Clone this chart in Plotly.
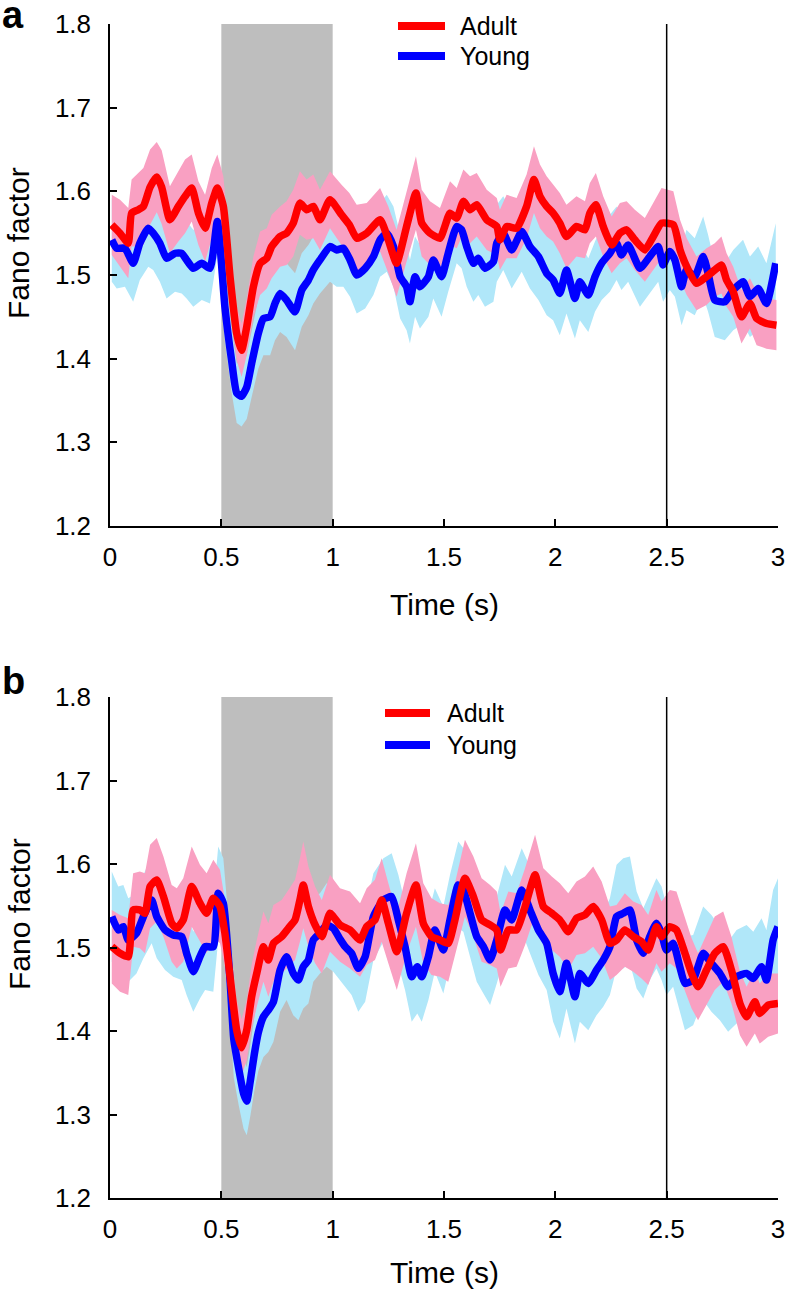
import plotly.graph_objects as go

# ---------------- data ----------------
# Panel a
t_adult_a = [0.008,0.045,0.082,0.097,0.127,0.150,0.180,0.210,0.232,0.269,
             0.307,0.337,0.367,0.397,0.427,0.457,0.482,0.509,0.539,0.569,
             0.591,0.614,0.644,0.674,0.704,0.726,0.764,0.793,0.823,0.853,
             0.883,0.913,0.943,0.988,1.040,1.075,1.108,1.153,1.213,1.250,
             1.287,1.332,1.374,1.400,1.437,1.482,1.527,1.557,1.587,1.617,
             1.647,1.692,1.737,1.751,1.781,1.826,1.871,1.904,1.931,1.961,
             1.990,2.020,2.050,2.095,2.133,2.155,2.182,2.215,2.253,2.290,
             2.320,2.357,2.402,2.440,2.477,2.530,2.560,2.590,2.634,2.679,
             2.716,2.746,2.769,2.799,2.836,2.874,2.904,2.948,2.993]
adult_a = [1.560,1.550,1.538,1.574,1.578,1.582,1.605,1.617,1.605,1.566,
           1.582,1.594,1.604,1.574,1.556,1.586,1.604,1.582,1.498,1.430,
           1.410,1.438,1.486,1.514,1.520,1.534,1.546,1.550,1.562,1.586,
           1.578,1.582,1.566,1.590,1.572,1.560,1.544,1.550,1.566,1.542,
           1.514,1.558,1.598,1.562,1.550,1.544,1.574,1.568,1.588,1.578,
           1.584,1.566,1.558,1.542,1.558,1.556,1.582,1.614,1.594,1.582,
           1.574,1.562,1.546,1.558,1.554,1.574,1.584,1.558,1.536,1.550,
           1.554,1.542,1.530,1.546,1.562,1.560,1.530,1.510,1.490,1.498,
           1.506,1.512,1.494,1.480,1.450,1.466,1.448,1.442,1.440]
adult_a_sem = [0.036,0.040,0.042,0.040,0.044,0.046,0.045,0.042,0.044,0.040,
               0.042,0.044,0.040,0.038,0.040,0.042,0.040,0.036,0.034,0.032,
               0.032,0.034,0.036,0.038,0.036,0.038,0.036,0.038,0.040,0.038,
               0.036,0.038,0.036,0.034,0.036,0.038,0.040,0.036,0.038,0.040,
               0.040,0.042,0.044,0.040,0.038,0.036,0.038,0.036,0.038,0.040,
               0.038,0.036,0.034,0.036,0.038,0.036,0.038,0.040,0.038,0.036,
               0.034,0.036,0.038,0.036,0.034,0.036,0.038,0.036,0.034,0.036,
               0.034,0.036,0.038,0.040,0.042,0.040,0.036,0.034,0.032,0.034,
               0.032,0.034,0.032,0.030,0.032,0.030,0.032,0.030,0.030]

t_young_a = [0.008,0.030,0.067,0.104,0.134,0.172,0.194,0.224,0.254,0.292,
             0.322,0.344,0.374,0.412,0.449,0.482,0.516,0.546,0.569,0.591,
             0.614,0.636,0.666,0.689,0.719,0.741,0.764,0.793,0.831,0.861,
             0.891,0.913,0.943,0.988,1.018,1.048,1.078,1.108,1.146,1.183,
             1.213,1.243,1.273,1.303,1.332,1.347,1.370,1.392,1.430,1.452,
             1.489,1.519,1.557,1.579,1.602,1.632,1.654,1.684,1.722,1.737,
             1.766,1.804,1.849,1.886,1.924,1.961,1.990,2.020,2.050,2.088,
             2.110,2.148,2.178,2.208,2.245,2.275,2.297,2.327,2.380,2.424,
             2.462,2.484,2.514,2.537,2.567,2.589,2.626,2.664,2.686,2.716,
             2.761,2.799,2.843,2.874,2.911,2.948,2.990]
young_a = [1.542,1.532,1.532,1.514,1.538,1.556,1.550,1.538,1.520,1.526,
           1.526,1.518,1.508,1.514,1.508,1.564,1.462,1.398,1.359,1.355,
           1.366,1.394,1.430,1.448,1.450,1.466,1.478,1.470,1.456,1.482,
           1.494,1.506,1.518,1.534,1.530,1.532,1.518,1.500,1.508,1.522,
           1.542,1.550,1.534,1.498,1.486,1.468,1.498,1.486,1.498,1.518,
           1.498,1.526,1.558,1.554,1.534,1.514,1.520,1.508,1.516,1.538,
           1.550,1.530,1.552,1.534,1.522,1.502,1.494,1.478,1.506,1.472,
           1.492,1.476,1.498,1.514,1.526,1.538,1.524,1.536,1.508,1.522,
           1.534,1.512,1.528,1.518,1.486,1.506,1.498,1.522,1.502,1.470,
           1.468,1.482,1.492,1.474,1.484,1.466,1.514]
young_a_sem = [0.050,0.048,0.046,0.046,0.044,0.046,0.044,0.046,0.048,0.046,
               0.048,0.046,0.046,0.044,0.042,0.040,0.040,0.038,0.036,0.036,
               0.038,0.040,0.042,0.044,0.046,0.044,0.046,0.044,0.046,0.044,
               0.042,0.040,0.040,0.042,0.044,0.046,0.044,0.046,0.048,0.046,
               0.044,0.046,0.048,0.050,0.052,0.050,0.048,0.050,0.048,0.046,
               0.048,0.046,0.044,0.046,0.048,0.046,0.044,0.046,0.048,0.046,
               0.044,0.046,0.048,0.050,0.052,0.050,0.048,0.050,0.052,0.048,
               0.046,0.044,0.042,0.044,0.046,0.044,0.042,0.044,0.046,0.044,
               0.042,0.044,0.046,0.044,0.046,0.048,0.046,0.048,0.046,0.044,
               0.046,0.048,0.050,0.048,0.050,0.048,0.048]

# Panel b
t_adult_b = [0.008,0.045,0.082,0.104,0.134,0.157,0.180,0.210,0.240,0.277,
             0.300,0.329,0.367,0.404,0.434,0.464,0.494,0.516,0.546,0.569,
             0.591,0.614,0.636,0.659,0.689,0.711,0.734,0.771,0.801,0.831,
             0.853,0.868,0.891,0.921,0.951,0.988,
             1.033,1.078,1.123,1.153,1.190,1.220,1.250,1.288,1.332,1.374,
             1.407,1.444,1.482,1.519,1.549,1.594,1.632,1.669,1.707,1.737,
             1.754,1.789,1.826,1.864,1.909,1.946,1.984,
             2.020,2.058,2.095,2.133,2.170,2.208,2.245,2.275,2.312,2.350,
             2.387,2.417,2.454,2.477,2.514,2.544,2.582,2.612,2.641,2.679,
             2.716,2.754,2.791,2.829,2.859,2.896,2.918,2.956,3.000]
adult_b = [1.501,1.493,1.489,1.545,1.545,1.541,1.573,1.581,1.561,1.529,
           1.523,1.533,1.573,1.553,1.541,1.559,1.549,1.517,1.449,1.401,
           1.380,1.401,1.441,1.469,1.501,1.485,1.505,1.513,1.523,1.533,
           1.557,1.575,1.549,1.527,1.513,1.541,
           1.527,1.521,1.509,1.525,1.533,1.557,1.529,1.495,1.541,1.575,
           1.529,1.513,1.509,1.505,1.533,1.583,1.561,1.533,1.527,1.521,
           1.497,1.521,1.521,1.549,1.587,1.549,1.541,
           1.533,1.519,1.535,1.539,1.549,1.533,1.505,1.509,1.521,1.513,
           1.507,1.497,1.525,1.513,1.525,1.521,1.493,1.469,1.453,1.473,
           1.493,1.501,1.473,1.433,1.417,1.435,1.421,1.431,1.433]
adult_b_sem = [0.044,0.046,0.046,0.044,0.046,0.048,0.050,0.050,0.048,0.046,
               0.048,0.050,0.048,0.046,0.048,0.046,0.044,0.040,0.038,0.036,
               0.034,0.036,0.038,0.040,0.042,0.044,0.046,0.044,0.046,0.048,
               0.050,0.052,0.048,0.046,0.044,0.046,
               0.044,0.046,0.044,0.046,0.048,0.050,0.048,0.046,0.048,0.050,
               0.048,0.046,0.044,0.046,0.044,0.046,0.048,0.050,0.048,0.046,
               0.044,0.046,0.044,0.046,0.048,0.046,0.044,
               0.044,0.046,0.044,0.046,0.048,0.046,0.044,0.042,0.044,0.042,
               0.044,0.042,0.044,0.042,0.044,0.046,0.044,0.042,0.040,0.042,
               0.044,0.042,0.040,0.038,0.036,0.038,0.036,0.038,0.036]

t_young_b = [0.008,0.037,0.060,0.082,0.119,0.150,0.187,0.210,0.247,0.284,
             0.322,0.344,0.374,0.404,0.427,0.464,0.486,0.509,0.539,0.556,
             0.578,0.600,0.614,0.630,0.648,0.666,0.689,0.711,0.734,0.764,
             0.793,0.823,0.846,0.868,0.891,0.913,0.943,0.973,1.003,1.033,
             1.056,1.085,1.115,1.146,1.183,1.228,1.265,1.295,1.325,1.355,
             1.380,1.400,1.430,1.459,1.497,1.527,1.564,1.587,1.617,1.647,
             1.677,1.707,1.737,1.774,1.804,1.849,1.886,1.924,1.961,1.990,
             2.020,2.050,2.088,2.110,2.148,2.185,2.215,2.245,2.275,2.305,
             2.335,2.365,2.395,2.424,2.454,2.477,2.499,2.529,2.559,2.582,
             2.619,2.664,2.701,2.739,2.776,2.814,2.859,2.889,2.926,2.948,
             2.978,3.000]
young_b = [1.537,1.521,1.525,1.509,1.517,1.537,1.557,1.537,1.521,1.515,
           1.513,1.493,1.471,1.489,1.501,1.501,1.565,1.553,1.461,1.390,
           1.355,1.325,1.316,1.340,1.372,1.398,1.417,1.425,1.435,1.473,
           1.489,1.469,1.461,1.477,1.485,1.509,1.517,1.527,1.523,1.510,
           1.501,1.493,1.475,1.489,1.537,1.557,1.561,1.533,1.501,1.465,
           1.477,1.465,1.489,1.521,1.497,1.533,1.575,1.569,1.541,1.513,
           1.501,1.485,1.509,1.545,1.533,1.569,1.545,1.521,1.505,1.469,
           1.447,1.481,1.441,1.469,1.457,1.473,1.485,1.501,1.537,1.541,
           1.545,1.509,1.493,1.513,1.529,1.517,1.497,1.505,1.477,1.457,
           1.461,1.493,1.481,1.469,1.453,1.465,1.469,1.463,1.477,1.461,
           1.509,1.525]
young_b_sem = [0.054,0.052,0.050,0.050,0.048,0.050,0.052,0.050,0.048,0.050,
               0.052,0.050,0.048,0.050,0.052,0.054,0.056,0.054,0.050,0.046,
               0.044,0.042,0.041,0.042,0.044,0.046,0.048,0.050,0.048,0.050,
               0.052,0.050,0.048,0.050,0.052,0.050,0.048,0.050,0.052,0.050,
               0.048,0.050,0.052,0.054,0.052,0.050,0.052,0.054,0.052,0.054,
               0.056,0.054,0.052,0.050,0.052,0.054,0.052,0.050,0.052,0.054,
               0.056,0.054,0.052,0.054,0.052,0.050,0.052,0.054,0.056,0.058,
               0.056,0.054,0.056,0.058,0.056,0.054,0.056,0.058,0.062,0.066,
               0.064,0.058,0.054,0.052,0.054,0.056,0.054,0.052,0.054,0.056,
               0.054,0.056,0.058,0.056,0.054,0.056,0.058,0.056,0.058,0.060,
               0.060,0.058]

x_ticks = [0, 0.5, 1, 1.5, 2, 2.5, 3]
x_ticklabels = ["0", "0.5", "1", "1.5", "2", "2.5", "3"]
y_ticks = [1.2, 1.3, 1.4, 1.5, 1.6, 1.7, 1.8]
y_ticklabels = ["1.2", "1.3", "1.4", "1.5", "1.6", "1.7", "1.8"]
stim_window = [0.5, 1.0]
marker_time = 2.5
series_names = ["Adult", "Young"]

# ---------------- styling ----------------
W, H = 788, 1291
ML, MR, MT, MB = 110, 10, 24, 93
PW, PH = W - ML - MR, H - MT - MB
FONT = "Liberation Sans, Arial, Helvetica, sans-serif"
RED, BLUE = "#ff0000", "#0000ff"
PINK, LIGHTBLUE = "#f9a0c2", "#b0e7f9"
GRAY = "#bebebe"
LINE_W = 7.5


def px(xp):
    return (xp - ML) / PW


def py(yp):
    return (MT + PH - yp) / PH


def fit(sem, n):
    sem = list(sem[:n])
    return sem + [sem[-1]] * (n - len(sem))


fig = go.Figure()


def add_panel(xa, ya, ta, va, sa, tb, vb, sb):
    sa = fit(sa, len(va))
    sb = fit(sb, len(vb))
    up = [v + s for v, s in zip(vb, sb)]
    lo = [v - s for v, s in zip(vb, sb)]
    fig.add_trace(go.Scatter(x=tb + tb[::-1], y=up + lo[::-1], fill="toself",
                             fillcolor=LIGHTBLUE, line=dict(width=0),
                             mode="lines", hoverinfo="skip", showlegend=False,
                             xaxis=xa, yaxis=ya))
    up = [v + s for v, s in zip(va, sa)]
    lo = [v - s for v, s in zip(va, sa)]
    fig.add_trace(go.Scatter(x=ta + ta[::-1], y=up + lo[::-1], fill="toself",
                             fillcolor=PINK, line=dict(width=0),
                             mode="lines", hoverinfo="skip", showlegend=False,
                             xaxis=xa, yaxis=ya))
    fig.add_trace(go.Scatter(x=tb, y=vb, mode="lines", name=series_names[1],
                             line=dict(color=BLUE, width=LINE_W,
                                       shape="spline", smoothing=0.5),
                             showlegend=False, xaxis=xa, yaxis=ya))
    fig.add_trace(go.Scatter(x=ta, y=va, mode="lines", name=series_names[0],
                             line=dict(color=RED, width=LINE_W,
                                       shape="spline", smoothing=0.5),
                             showlegend=False, xaxis=xa, yaxis=ya))


add_panel("x", "y", t_adult_a, adult_a, adult_a_sem, t_young_a, young_a, young_a_sem)
add_panel("x2", "y2", t_adult_b, adult_b, adult_b_sem, t_young_b, young_b, young_b_sem)

axis_common = dict(showgrid=False, zeroline=False, showline=True,
                   linecolor="black", linewidth=1.5, ticks="inside",
                   ticklen=7, tickwidth=1.5, tickcolor="black",
                   automargin=False,
                   tickfont=dict(family=FONT, size=26, color="black"))

dom_a = [py(526), 1.0]
dom_b = [0.0, py(697)]

fig.update_layout(
    width=W, height=H, autosize=False,
    margin=dict(l=ML, r=MR, t=MT, b=MB, pad=0, autoexpand=False),
    paper_bgcolor="white", plot_bgcolor="white",
    showlegend=False,
    xaxis=dict(range=[0, 3], domain=[0, 1], anchor="y",
               tickvals=x_ticks, ticktext=x_ticklabels,
               ticklabelstandoff=7, **axis_common),
    yaxis=dict(range=[1.2, 1.8], domain=dom_a, anchor="x",
               tickvals=y_ticks, ticktext=y_ticklabels,
               ticklabelstandoff=12, **axis_common),
    xaxis2=dict(range=[0, 3], domain=[0, 1], anchor="y2",
                tickvals=x_ticks, ticktext=x_ticklabels,
                ticklabelstandoff=7, **axis_common),
    yaxis2=dict(range=[1.2, 1.8], domain=dom_b, anchor="x2",
                tickvals=y_ticks, ticktext=y_ticklabels,
                ticklabelstandoff=12, **axis_common),
)

shapes = []
annotations = []
for xa, ya in (("x", "y"), ("x2", "y2")):
    shapes.append(dict(type="rect", xref=xa, yref=ya, x0=stim_window[0],
                       x1=stim_window[1], y0=1.2, y1=1.8, fillcolor=GRAY,
                       line=dict(width=0), layer="below"))
    shapes.append(dict(type="line", xref=xa, yref=ya, x0=marker_time,
                       x1=marker_time, y0=1.2, y1=1.8,
                       line=dict(color="black", width=1.5), layer="above"))

# legends (drawn manually)
for (x0, x1, xt, yr, yb) in ((398, 445, 458, 26, 56), (385, 430, 445, 713, 745)):
    for yy, col, name in ((yr, RED, series_names[0]), (yb, BLUE, series_names[1])):
        shapes.append(dict(type="line", xref="paper", yref="paper",
                           x0=px(x0), x1=px(x1), y0=py(yy), y1=py(yy),
                           line=dict(color=col, width=8)))
        annotations.append(dict(text=name, xref="paper", yref="paper",
                                x=px(xt), y=py(yy), xanchor="left",
                                yanchor="middle", showarrow=False,
                                font=dict(family=FONT, size=25, color="black")))

# panel letters
for letter, yy in (("a", 15), ("b", 681)):
    annotations.append(dict(text="<b>%s</b>" % letter, xref="paper", yref="paper",
                            x=px(13), y=py(yy), xanchor="center", yanchor="middle",
                            showarrow=False,
                            font=dict(family=FONT, size=38, color="black")))

# axis titles
for yy in (243, 914):
    annotations.append(dict(text="Fano factor", xref="paper", yref="paper",
                            x=px(19), y=py(yy), xanchor="center", yanchor="middle",
                            textangle=-90, showarrow=False,
                            font=dict(family=FONT, size=30, color="black")))
for yy in (604, 1272):
    annotations.append(dict(text="Time (s)", xref="paper", yref="paper",
                            x=px(444), y=py(yy), xanchor="center", yanchor="middle",
                            showarrow=False,
                            font=dict(family=FONT, size=30, color="black")))

fig.update_layout(shapes=shapes, annotations=annotations)
fig.write_html("out.html",
               config={"displayModeBar": False, "responsive": False},
               post_script="document.body.style.margin='0';"
                           "document.body.style.overflow='hidden';")
